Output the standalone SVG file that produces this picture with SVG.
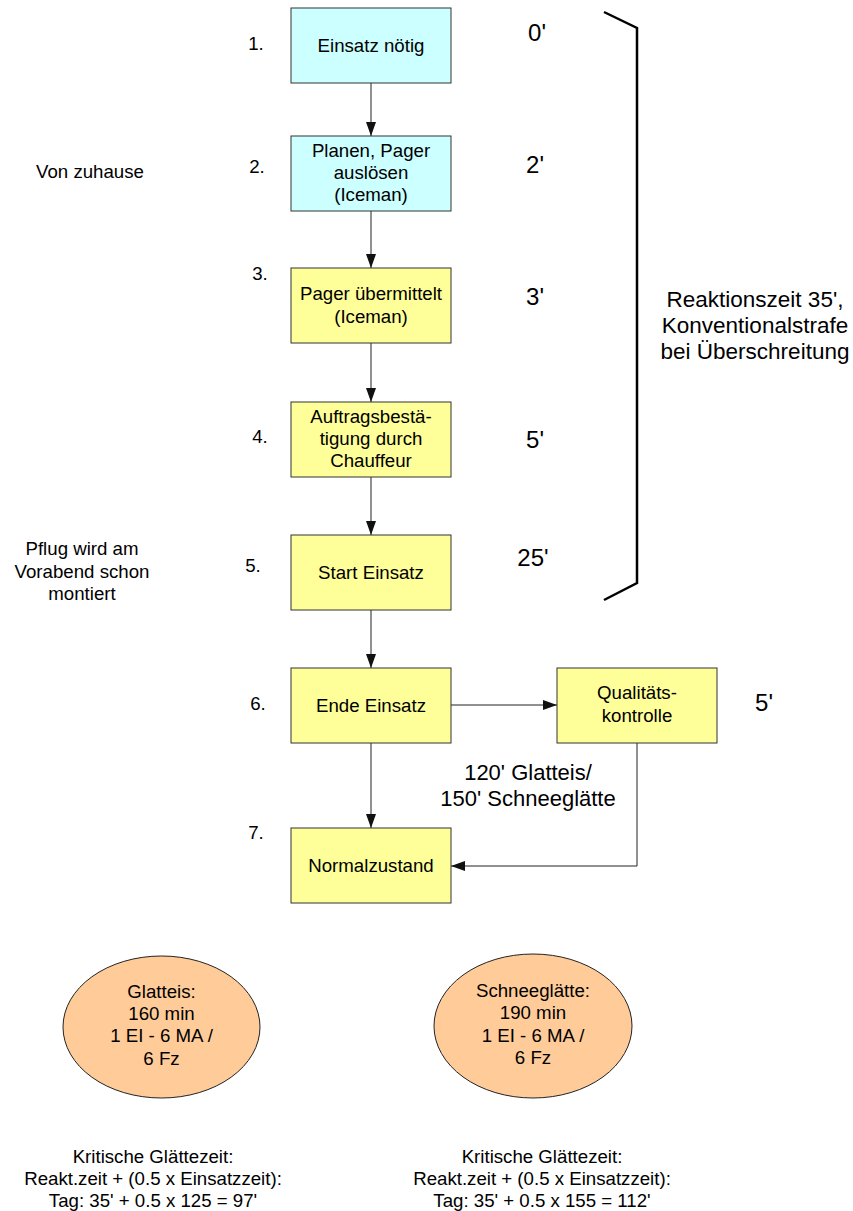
<svg xmlns="http://www.w3.org/2000/svg" width="853" height="1211" viewBox="0 0 853 1211">
<style>
text{font-family:"Liberation Sans",Arial,sans-serif;fill:#000}
.box{stroke:#333;stroke-width:1}
.cyan{fill:#CCFFFF}
.yel{fill:#FFFF99}
.bt{font-size:18.67px;text-anchor:middle}
.num{font-size:18.67px;text-anchor:middle}
.tm{font-size:24px;text-anchor:middle}
.note{font-size:18.67px;text-anchor:middle}
.big{font-size:22.5px;text-anchor:middle}
.mid{font-size:22px;text-anchor:middle}
.ell{fill:#FFCC99;stroke:#222;stroke-width:1}
.cond{font-size:18.67px;text-anchor:middle}
.con{fill:none;stroke:#222;stroke-width:1}
</style>
<defs>
<marker id="ah2" viewBox="0 0 14 10" refX="14" refY="5" markerWidth="14" markerHeight="10" markerUnits="userSpaceOnUse" orient="auto">
<path d="M0,0 L14,5 L0,10 z" fill="#111"/>
</marker>
</defs>
<g id="connectors">
<line class="con" x1="371" y1="83" x2="371" y2="136" marker-end="url(#ah2)"/>
<line class="con" x1="371" y1="211" x2="371" y2="268" marker-end="url(#ah2)"/>
<line class="con" x1="371" y1="343" x2="371" y2="402" marker-end="url(#ah2)"/>
<line class="con" x1="371" y1="477" x2="371" y2="535" marker-end="url(#ah2)"/>
<line class="con" x1="371" y1="610" x2="371" y2="668" marker-end="url(#ah2)"/>
<line class="con" x1="451" y1="705" x2="557" y2="705" marker-end="url(#ah2)"/>
<line class="con" x1="371" y1="743" x2="371" y2="828" marker-end="url(#ah2)"/>
<polyline class="con" points="637,743 637,866 451,866" marker-end="url(#ah2)"/>
</g>
<g id="bracket">
<polyline points="604,12 637,28 637,583 604,600" fill="none" stroke="#000" stroke-width="2.5"/>
</g>
<g id="n1">
<rect class="box cyan" x="291" y="8" width="160" height="75"/>
<text class="bt" x="371" y="52">Einsatz nötig</text>
</g>
<g id="n2">
<rect class="box cyan" x="291" y="136" width="160" height="75"/>
<text class="bt" x="371" y="157">Planen, Pager</text>
<text class="bt" x="371" y="179">auslösen</text>
<text class="bt" x="371" y="201">(Iceman)</text>
</g>
<g id="n3">
<rect class="box yel" x="291" y="268" width="160" height="75"/>
<text class="bt" x="371" y="300">Pager übermittelt</text>
<text class="bt" x="371" y="323">(Iceman)</text>
</g>
<g id="n4">
<rect class="box yel" x="291" y="402" width="160" height="75"/>
<text class="bt" x="371" y="423">Auftragsbestä-</text>
<text class="bt" x="371" y="445">tigung durch</text>
<text class="bt" x="371" y="467">Chauffeur</text>
</g>
<g id="n5">
<rect class="box yel" x="291" y="535" width="160" height="75"/>
<text class="bt" x="371" y="579">Start Einsatz</text>
</g>
<g id="n6">
<rect class="box yel" x="291" y="668" width="160" height="75"/>
<text class="bt" x="371" y="712">Ende Einsatz</text>
</g>
<g id="nq">
<rect class="box yel" x="557" y="668" width="160" height="75"/>
<text class="bt" x="637" y="699">Qualitäts-</text>
<text class="bt" x="637" y="722">kontrolle</text>
</g>
<g id="n7">
<rect class="box yel" x="291" y="828" width="160" height="75"/>
<text class="bt" x="371" y="872">Normalzustand</text>
</g>
<g id="numbers">
<text class="num" x="256" y="50">1.</text>
<text class="num" x="257" y="173">2.</text>
<text class="num" x="260" y="280">3.</text>
<text class="num" x="260" y="443">4.</text>
<text class="num" x="253" y="572">5.</text>
<text class="num" x="258" y="710">6.</text>
<text class="num" x="256" y="839">7.</text>
</g>
<g id="times">
<text class="tm" x="537" y="41">0'</text>
<text class="tm" x="535" y="173">2'</text>
<text class="tm" x="535" y="305">3'</text>
<text class="tm" x="535" y="448">5'</text>
<text class="tm" x="533" y="566">25'</text>
<text class="tm" x="764" y="711">5'</text>
</g>
<g id="notes">
<text class="note" x="90" y="178">Von zuhause</text>
<text class="note" x="82" y="555">Pflug wird am</text>
<text class="note" x="82" y="578">Vorabend schon</text>
<text class="note" x="82" y="600">montiert</text>
<text class="big" x="755" y="307">Reaktionszeit 35',</text>
<text class="big" x="755" y="333">Konventionalstrafe</text>
<text class="big" x="755" y="359">bei Überschreitung</text>
<text class="mid" x="528" y="780">120' Glatteis/</text>
<text class="mid" x="528" y="806">150' Schneeglätte</text>
</g>
<g id="e1">
<ellipse class="ell" cx="161.5" cy="1027" rx="98.5" ry="71"/>
<text class="cond" x="161.5" y="998">Glatteis:</text>
<text class="cond" x="161.5" y="1020">160 min</text>
<text class="cond" x="161.5" y="1042">1 EI - 6 MA /</text>
<text class="cond" x="161.5" y="1065">6 Fz</text>
</g>
<g id="e2">
<ellipse class="ell" cx="533" cy="1026" rx="99" ry="72"/>
<text class="cond" x="533" y="997">Schneeglätte:</text>
<text class="cond" x="533" y="1019">190 min</text>
<text class="cond" x="533" y="1042">1 EI - 6 MA /</text>
<text class="cond" x="533" y="1064">6 Fz</text>
</g>
<g id="formulas">
<text class="cond" x="153" y="1163">Kritische Glättezeit:</text>
<text class="cond" x="153" y="1185">Reakt.zeit + (0.5 x Einsatzzeit):</text>
<text class="cond" x="153" y="1207">Tag: 35' + 0.5 x 125 = 97'</text>
<text class="cond" x="542" y="1163">Kritische Glättezeit:</text>
<text class="cond" x="542" y="1185">Reakt.zeit + (0.5 x Einsatzzeit):</text>
<text class="cond" x="542" y="1207">Tag: 35' + 0.5 x 155 = 112'</text>
</g>
</svg>
